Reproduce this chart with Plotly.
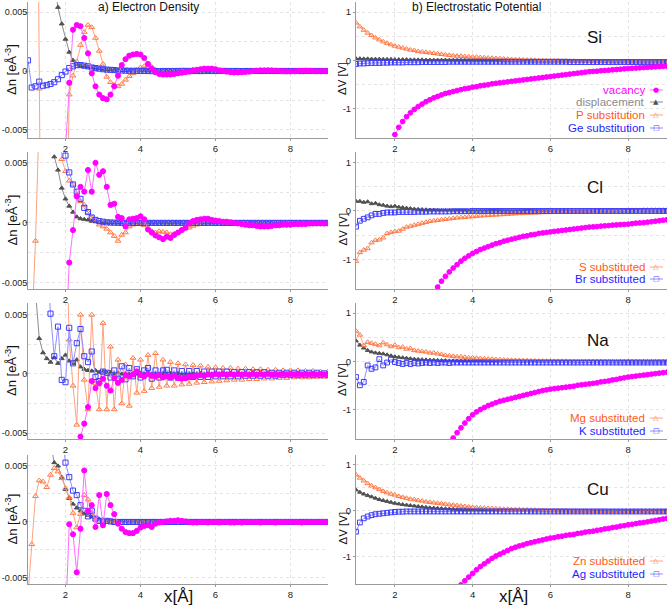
import plotly.graph_objects as go
from plotly.subplots import make_subplots

# x grid in Angstrom (shared by every series)
X = [1.0, 1.1, 1.2, 1.3, 1.4, 1.5, 1.6, 1.7, 1.8, 1.9,
     2.0, 2.1, 2.2, 2.3, 2.4, 2.5, 2.6, 2.7, 2.8, 2.9,
     3.0, 3.1, 3.2, 3.3, 3.4, 3.5, 3.6, 3.7, 3.8, 3.9,
     4.0, 4.1, 4.2, 4.3, 4.4, 4.5, 4.6, 4.7, 4.8, 4.9,
     5.0, 5.1, 5.2, 5.3, 5.4, 5.5, 5.6, 5.7, 5.8, 5.9,
     6.0, 6.1, 6.2, 6.3, 6.4, 6.5, 6.6, 6.7, 6.8, 6.9,
     7.0, 7.1, 7.2, 7.3, 7.4, 7.5, 7.6, 7.7, 7.8, 7.9,
     8.0, 8.1, 8.2, 8.3, 8.4, 8.5, 8.6, 8.7, 8.8, 8.9, 9.0]

# ---------------- electron density, units of 1e-3 e/A^3 ----------------
SI_DN_VAC = [None] * 10 + [
    -6.5, -1.0, 3.5, 3.9, 3.8, 2.8, 1.5, -0.2, -1.3, -2.0,
    -2.3, -2.4, -2.0, -1.3, -0.4, 0.5, 1.0, 1.3, 1.4, 1.45,
    1.4, 1.1, 0.6, 0.2, -0.1, -0.25, -0.3, -0.3, -0.3, -0.25,
    -0.2, -0.15, -0.1, -0.05, 0.05, 0.1, 0.15, 0.2, 0.2, 0.2,
    0.15, 0.05, 0.0, -0.05, -0.1, -0.12, -0.12, -0.1, -0.08, -0.05,
    0.0, 0.02, 0.05, 0.05, 0.05, 0.05, 0.03, 0.0, -0.02, -0.03,
    -0.03, -0.02, 0.0, 0.02, 0.03, 0.02, 0.0, -0.02, -0.02, 0.0, 0.0]
SI_DN_DISP = [None] * 7 + [
    7.5, 5.4, 4.0,
    2.7, 1.6, 0.9, 0.55, 0.45, 0.4, 0.35, 0.3, 0.25, 0.2,
    0.15, 0.12, 0.1, 0.08, 0.06, 0.05, 0.04, 0.03, 0.03, 0.02,
    0.02, 0.02, 0.01, 0.01, 0.01, 0.0, 0.0, 0.0, 0.01, 0.0,
    0.0, -0.01, 0.0, 0.0, 0.01, 0.01, 0.0, 0.0, -0.01, 0.0,
    0.0, 0.0, 0.01, 0.0, 0.0, -0.01, -0.01, 0.0, 0.0, 0.0,
    0.0, 0.01, 0.0, 0.0, 0.0, -0.01, 0.0, 0.0, 0.0, 0.0,
    0.0, 0.0, 0.0, 0.0, 0.0, 0.0, 0.0, 0.0, 0.0, 0.0, 0.0]
SI_DN_SUB1 = [
    None, None, 40.0, -1.5, -40.0, None, None, None, None, None,
    -20.0, -2.0, -0.4, 0.8, 2.2, 3.3, 3.9, 3.7, 2.8, 1.7,
    0.6, -0.5, -0.95, -1.2, -1.3, -1.1, -0.75, -0.45, -0.2, 0.1,
    0.3, 0.4, 0.45, 0.35, 0.1, -0.05, -0.1, -0.15, -0.15, -0.1,
    -0.1, -0.05, 0.0, 0.05, 0.1, 0.1, 0.15, 0.15, 0.15, 0.1,
    0.05, 0.0, -0.03, -0.05, -0.05, -0.05, -0.04, -0.03, 0.0, 0.02,
    0.03, 0.03, 0.02, 0.0, -0.02, -0.03, -0.03, -0.02, 0.0, 0.01,
    0.02, 0.02, 0.01, 0.0, -0.01, -0.02, -0.02, -0.01, 0.0, 0.01, 0.01]
SI_DN_SUB2 = [
    0.9, -1.4, -1.3, -0.9, -1.25, -1.2, -1.1, -0.95, -0.7, -0.35,
    -0.05, 0.25, 0.4, 0.5, 0.5, 0.45, 0.4, 0.3, 0.25, 0.2,
    0.15, 0.12, 0.1, 0.08, 0.05, 0.04, 0.03, 0.02, 0.02, 0.01,
    0.01, 0.0, 0.0, -0.01, -0.01, -0.01, 0.0, 0.0, 0.0, 0.0,
    0.0, 0.01, 0.01, 0.0, 0.0, 0.0, -0.01, 0.0, 0.0, 0.0,
    0.0, 0.0, 0.01, 0.0, 0.0, 0.0, 0.0, -0.01, 0.0, 0.0,
    0.0, 0.0, 0.0, 0.0, 0.01, 0.0, 0.0, 0.0, 0.0, 0.0,
    0.0, 0.0, 0.0, -0.01, 0.0, 0.0, 0.0, 0.0, 0.0, 0.0, 0.0]

CL_DN_VAC = [None] * 10 + [
    -10.0, -3.3, -0.6, 2.2, 3.0, 2.6, 4.4, 2.6, 5.0, 4.0,
    4.3, 3.0, 1.5, 1.6, 0.5, 0.4, -0.3, 0.3, 0.35, 0.4,
    0.55, 0.3, -0.55, -0.8, -1.05, -1.2, -1.35, -1.15, -1.25, -1.0,
    -0.8, -0.6, -0.4, -0.05, 0.15, 0.25, 0.3, 0.35, 0.35, 0.25,
    0.2, 0.15, 0.1, 0.1, 0.05, 0.0, -0.05, -0.1, -0.15, -0.2,
    -0.2, -0.25, -0.3, -0.3, -0.3, -0.25, -0.2, -0.2, -0.15, -0.15,
    -0.15, -0.1, -0.1, -0.1, -0.1, -0.05, -0.05, -0.05, -0.05, -0.05, -0.05]
CL_DN_DISP = [None] * 7 + [
    5.5, 4.4, 2.9,
    2.0, 1.4, 0.9, 0.5, 0.35, 0.3, 0.25, 0.15, 0.1, 0.05,
    0.03, 0.02, 0.01, 0.01, 0.0, 0.0, 0.0, 0.0, 0.0, 0.0,
    0.0, 0.0, 0.0, 0.0, 0.0, 0.0, 0.0, 0.0, 0.0, 0.0,
    0.0, 0.0, 0.0, 0.0, 0.0, 0.0, 0.0, 0.0, 0.0, 0.0,
    0.0, 0.0, 0.0, 0.0, 0.0, 0.0, 0.0, 0.0, 0.0, 0.0,
    0.0, 0.0, 0.0, 0.0, 0.0, 0.0, 0.0, 0.0, 0.0, 0.0,
    0.0, 0.0, 0.0, 0.0, 0.0, 0.0, 0.0, 0.0, 0.0, 0.0, 0.0]
CL_DN_SUB1 = [
    None, -9.0, -1.5, 9.0, None, None, None, None, 12.0, 5.3,
    4.3, 3.5, 3.2, 2.4, 1.8, 1.5, 0.9, 0.45, 0.15, -0.15,
    -0.3, -0.5, -0.8, -1.1, -1.5, -1.0, -0.8, -0.3, -0.15, -0.1,
    -0.1, -0.2, -0.4, -0.7, -0.8, -0.7, -0.75, -0.8, -0.95, -0.9,
    -0.8, -0.55, -0.45, -0.4, -0.25, -0.15, 0.1, 0.15, 0.2, 0.2,
    0.15, 0.1, 0.05, 0.0, -0.05, -0.05, -0.1, -0.1, -0.1, -0.15,
    -0.15, -0.15, -0.2, -0.2, -0.15, -0.15, -0.1, -0.1, -0.1, -0.05,
    -0.05, -0.05, -0.05, 0.0, 0.0, -0.05, -0.05, 0.0, 0.0, 0.0, 0.0]
CL_DN_SUB2 = [None] * 9 + [
    12.0,
    5.6, 4.2, 3.2, 2.6, 2.0, 1.25, 0.9, 0.45, 0.25, 0.15,
    0.1, 0.05, 0.03, 0.02, 0.01, 0.0, 0.0, 0.0, 0.0, 0.0,
    0.0, 0.0, 0.0, 0.0, 0.0, 0.0, 0.0, 0.0, 0.0, 0.0,
    0.0, 0.0, 0.0, 0.0, 0.0, 0.0, 0.0, 0.0, 0.0, 0.0,
    0.0, 0.0, 0.0, 0.0, 0.0, 0.0, 0.0, 0.0, 0.0, 0.0,
    0.0, 0.0, 0.0, 0.0, 0.0, 0.0, 0.0, 0.0, 0.0, 0.0,
    0.0, 0.0, 0.0, 0.0, 0.0, 0.0, 0.0, 0.0, 0.0, 0.0, 0.0]

NA_DN_VAC = [None] * 13 + [
    -12.0, -5.3, -4.2, -2.8, -0.6, -1.2, -0.8,
    -0.4, -1.0, -1.4, -0.35, -0.75, -0.5, -0.1, -0.2, -0.05, 0.22,
    -0.1, -0.2, 0.0, -0.15, -0.2, -0.1, -0.3, -0.2, -0.3, -0.15,
    -0.35, -0.4, -0.35, -0.25, -0.2, -0.15, -0.1, -0.15, -0.05, -0.1,
    0.0, -0.05, 0.0, -0.05, 0.0, -0.05, 0.0, -0.05, 0.0, -0.05,
    0.0, -0.05, 0.0, -0.05, 0.0, -0.05, -0.05, -0.05, 0.0, -0.05,
    0.0, -0.05, 0.0, -0.05, 0.0, -0.05, 0.0, -0.05, 0.0, -0.05, 0.0]
NA_DN_DISP = [
    None, None, 7.0, 3.0, 1.8, 1.3, 1.0, 1.4, 0.9, 1.3,
    1.6, 1.1, 0.9, 1.2, 0.6, 0.4, 0.3, 0.25, 0.3, 0.15,
    0.2, 0.1, 0.15, 0.05, 0.1, 0.0, 0.05, 0.0, 0.05, 0.0,
    0.05, 0.0, 0.05, 0.0, 0.05, 0.0, 0.05, 0.0, 0.05, 0.0,
    0.05, 0.0, 0.0, 0.05, 0.0, 0.0, 0.05, 0.0, 0.0, 0.0,
    0.05, 0.0, 0.0, 0.0, 0.05, 0.0, 0.0, 0.0, 0.0, 0.0,
    0.0, 0.0, 0.0, 0.0, 0.0, 0.0, 0.0, 0.0, 0.0, 0.0,
    0.0, 0.0, 0.0, 0.0, 0.0, 0.0, 0.0, 0.0, 0.0, 0.0, 0.0]
NA_DN_SUB1 = [None] * 10 + [
    14.0, 2.9, -1.0, -4.3, 5.0, -0.5, -3.0, 5.0, -0.8, -3.0,
    4.3, -3.0, 2.3, -3.0, 1.2, -2.5, 0.8, -2.7, 1.35, -1.6,
    1.2, -1.45, 1.6, -1.2, 1.75, -1.1, 1.2, -1.0, 1.0, -1.0,
    0.9, -0.9, 0.8, -0.85, 0.75, -0.75, 0.7, -0.7, 0.6, -0.65,
    0.55, -0.6, 0.5, -0.55, 0.5, -0.5, 0.45, -0.5, 0.45, -0.45,
    0.4, -0.45, 0.4, -0.4, 0.35, -0.4, 0.35, -0.35, 0.3, -0.35,
    0.3, -0.3, 0.3, -0.3, 0.25, -0.3, 0.25, -0.25, 0.2, -0.25, 0.2]
NA_DN_SUB2 = [
    None, None, None, None, None, 10.0, 5.1, 1.5, 4.0, -0.5,
    -0.7, 3.9, 0.9, 2.6, 3.8, 1.5, 1.0, 1.9, -0.25, -0.6,
    0.2, 0.1, -0.3, 0.3, -0.4, 0.65, -0.45, 0.5, -0.2, 0.4,
    -0.3, 0.3, 0.5, -0.4, 0.3, -0.3, 0.3, 0.35, -0.3, 0.3,
    -0.3, 0.25, -0.3, 0.25, -0.25, 0.25, -0.25, 0.2, -0.25, 0.2,
    -0.2, 0.2, -0.2, 0.2, -0.2, 0.15, -0.2, 0.15, -0.15, 0.15,
    -0.15, 0.15, -0.15, 0.15, -0.15, 0.1, -0.15, 0.1, -0.1, 0.1,
    -0.1, 0.1, -0.1, 0.1, -0.1, 0.1, -0.1, 0.1, -0.1, 0.05, -0.1]

CU_DN_VAC = [None] * 10 + [
    -9.0, -0.2, -1.1, -4.5, -0.6, 4.6, 1.0, 1.5, -0.45, 2.4,
    -0.3, 2.5, 1.5, 0.7, -0.15, -0.6, -0.9, -1.0, -1.0, -0.8,
    -0.5, -0.35, -0.3, -0.45, -0.15, -0.05, 0.0, 0.05, 0.1, 0.1,
    0.15, 0.1, 0.05, 0.0, -0.05, -0.05, 0.0, 0.0, -0.05, 0.0,
    0.0, -0.05, 0.0, 0.0, -0.05, -0.05, 0.0, -0.05, 0.0, 0.0,
    0.0, 0.0, -0.05, 0.0, 0.0, 0.0, -0.05, 0.0, 0.0, 0.0,
    0.0, 0.0, 0.0, -0.05, 0.0, 0.0, 0.0, 0.0, 0.0, 0.0, 0.0]
CU_DN_DISP = [None] * 6 + [
    7.0, 5.3, 5.0, 4.0,
    2.9, 2.1, 1.6, 1.25, 1.0, 0.75, 0.6, 0.45, 0.35, 0.25,
    0.2, 0.15, 0.1, 0.08, 0.05, 0.05, 0.05, 0.05, 0.05, 0.05,
    0.05, 0.05, 0.05, 0.05, 0.05, 0.05, 0.05, 0.05, 0.05, 0.05,
    0.05, 0.05, 0.05, 0.05, 0.05, 0.05, 0.05, 0.05, 0.05, 0.05,
    0.05, 0.05, 0.05, 0.05, 0.05, 0.05, 0.05, 0.05, 0.05, 0.05,
    0.05, 0.05, 0.05, 0.05, 0.05, 0.05, 0.05, 0.05, 0.05, 0.05,
    0.05, 0.05, 0.05, 0.05, 0.05, 0.05, 0.05, 0.05, 0.05, 0.05, 0.05]
CU_DN_SUB1 = [
    -6.5, -2.0, 2.3, 3.7, 3.6, 3.1, 4.2, 4.8, 4.5, 3.9,
    3.0, 2.2, 0.8, -0.5, 0.7, 2.4, 2.0, 0.8, 0.2, 0.1,
    0.0, 0.1, 0.0, -0.05, -0.1, -0.1, -0.1, -0.05, -0.05, 0.0,
    0.0, 0.0, 0.0, 0.0, 0.0, 0.0, 0.0, 0.0, 0.0, 0.0,
    0.0, 0.0, 0.0, 0.0, 0.0, 0.0, 0.0, 0.0, 0.0, 0.0,
    0.0, 0.0, 0.0, 0.0, 0.0, 0.0, 0.0, 0.0, 0.0, 0.0,
    0.0, 0.0, 0.0, 0.0, 0.0, 0.0, 0.0, 0.0, 0.0, 0.0,
    0.0, 0.0, 0.0, 0.0, 0.0, 0.0, 0.0, 0.0, 0.0, 0.0, 0.0]
CU_DN_SUB2 = [None] * 9 + [
    8.0,
    5.3, 4.0, 2.8, 2.4, 1.5, 1.0, 0.5, 1.0, 0.3, 0.1,
    0.0, 0.1, 0.05, 0.0, 0.0, 0.0, 0.0, 0.0, 0.0, 0.0,
    0.0, 0.0, 0.0, 0.0, 0.0, 0.0, 0.0, 0.0, 0.0, 0.0,
    0.0, 0.0, 0.0, 0.0, 0.0, 0.0, 0.0, 0.0, 0.0, 0.0,
    0.0, 0.0, 0.0, 0.0, 0.0, 0.0, 0.0, 0.0, 0.0, 0.0,
    0.0, 0.0, 0.0, 0.0, 0.0, 0.0, 0.0, 0.0, 0.0, 0.0,
    0.0, 0.0, 0.0, 0.0, 0.0, 0.0, 0.0, 0.0, 0.0, 0.0, 0.0]

# ---------------- electrostatic potential, V ----------------
SI_DV_VAC = [None] * 10 + [
    -1.53, -1.38, -1.26, -1.16, -1.08, -1.01, -0.95, -0.90, -0.85, -0.81,
    -0.77, -0.74, -0.71, -0.68, -0.66, -0.64, -0.62, -0.60, -0.58, -0.57,
    -0.55, -0.54, -0.52, -0.51, -0.50, -0.48, -0.47, -0.46, -0.45, -0.44,
    -0.43, -0.42, -0.41, -0.40, -0.39, -0.38, -0.37, -0.36, -0.35, -0.34,
    -0.33, -0.32, -0.31, -0.30, -0.29, -0.28, -0.27, -0.26, -0.25, -0.24,
    -0.23, -0.225, -0.22, -0.21, -0.205, -0.20, -0.19, -0.185, -0.18, -0.17,
    -0.165, -0.16, -0.155, -0.15, -0.145, -0.14, -0.135, -0.13, -0.125, -0.12, -0.115]
SI_DV_DISP = [
    0.04, 0.04, 0.035, 0.035, 0.03, 0.03, 0.03, 0.025, 0.025, 0.025,
    0.02, 0.02, 0.02, 0.02, 0.015, 0.015, 0.015, 0.015, 0.01, 0.01,
    0.01, 0.01, 0.01, 0.01, 0.005, 0.005, 0.005, 0.005, 0.005, 0.005,
    0.0, 0.0, 0.0, 0.0, 0.0, 0.0, 0.0, 0.0, -0.005, -0.005,
    -0.005, -0.005, -0.005, -0.005, -0.01, -0.01, -0.01, -0.01, -0.01, -0.01,
    -0.01, -0.01, -0.01, -0.015, -0.015, -0.015, -0.015, -0.015, -0.015, -0.015,
    -0.015, -0.015, -0.015, -0.02, -0.02, -0.02, -0.02, -0.02, -0.02, -0.02,
    -0.02, -0.02, -0.02, -0.02, -0.02, -0.02, -0.02, -0.02, -0.02, -0.02, -0.02]
SI_DV_SUB1 = [
    0.78, 0.70, 0.63, 0.57, 0.52, 0.47, 0.43, 0.39, 0.36, 0.33,
    0.30, 0.28, 0.26, 0.24, 0.22, 0.21, 0.19, 0.18, 0.17, 0.16,
    0.15, 0.14, 0.13, 0.12, 0.11, 0.10, 0.095, 0.09, 0.085, 0.08,
    0.075, 0.07, 0.065, 0.06, 0.055, 0.05, 0.045, 0.04, 0.035, 0.03,
    0.025, 0.02, 0.02, 0.015, 0.01, 0.01, 0.005, 0.0, 0.0, 0.0,
    -0.005, -0.005, -0.005, -0.01, -0.01, -0.01, -0.01, -0.015, -0.015, -0.015,
    -0.015, -0.02, -0.02, -0.02, -0.02, -0.02, -0.025, -0.025, -0.025, -0.025,
    -0.025, -0.03, -0.03, -0.03, -0.03, -0.03, -0.03, -0.03, -0.03, -0.03, -0.03]
SI_DV_SUB2 = [
    -0.07, -0.06, -0.06, -0.055, -0.05, -0.05, -0.05, -0.045, -0.045, -0.04,
    -0.04, -0.04, -0.04, -0.035, -0.035, -0.035, -0.035, -0.03, -0.03, -0.03,
    -0.03, -0.03, -0.03, -0.03, -0.025, -0.025, -0.025, -0.025, -0.025, -0.025,
    -0.025, -0.025, -0.025, -0.025, -0.025, -0.025, -0.025, -0.025, -0.025, -0.025,
    -0.025, -0.025, -0.025, -0.025, -0.025, -0.025, -0.025, -0.025, -0.025, -0.025,
    -0.025, -0.025, -0.025, -0.025, -0.025, -0.03, -0.03, -0.03, -0.03, -0.03,
    -0.03, -0.03, -0.03, -0.03, -0.03, -0.03, -0.03, -0.03, -0.03, -0.03,
    -0.03, -0.03, -0.03, -0.03, -0.03, -0.03, -0.03, -0.03, -0.03, -0.03, -0.03]

CL_DV_VAC = [None] * 21 + [
    -1.56, -1.44, -1.34, -1.25, -1.17, -1.10, -1.03, -0.97, -0.92,
    -0.87, -0.83, -0.79, -0.76, -0.73, -0.70, -0.67, -0.65, -0.62, -0.60,
    -0.58, -0.56, -0.54, -0.52, -0.51, -0.49, -0.48, -0.46, -0.45, -0.44,
    -0.43, -0.42, -0.41, -0.40, -0.39, -0.38, -0.37, -0.36, -0.35, -0.34,
    -0.33, -0.325, -0.32, -0.31, -0.305, -0.30, -0.29, -0.285, -0.28, -0.275,
    -0.27, -0.26, -0.25, -0.245, -0.24, -0.23, -0.22, -0.21, -0.20, -0.19, -0.18]
CL_DV_DISP = [
    0.20, 0.20, 0.18, 0.19, 0.15, 0.16, 0.13, 0.12, 0.10, 0.09,
    0.10, 0.08, 0.07, 0.06, 0.05, 0.04, 0.035, 0.03, 0.025, 0.02,
    0.02, 0.015, 0.01, 0.01, 0.01, 0.005, 0.005, 0.005, 0.005, 0.0,
    0.0, 0.0, 0.0, 0.0, 0.0, 0.0, 0.0, 0.0, 0.0, 0.0,
    0.0, 0.0, 0.0, 0.0, 0.0, 0.0, 0.0, 0.0, 0.0, 0.0,
    0.0, 0.0, 0.0, 0.0, 0.0, 0.0, 0.0, 0.0, 0.0, 0.0,
    0.0, 0.0, 0.0, 0.0, 0.0, 0.0, 0.0, 0.0, 0.0, 0.0,
    0.0, 0.0, 0.0, 0.0, 0.0, 0.0, 0.0, 0.0, 0.0, 0.0, 0.0]
CL_DV_SUB1 = [
    -1.03, -0.85, -0.80, -0.77, -0.65, -0.60, -0.59, -0.55, -0.46, -0.44,
    -0.42, -0.41, -0.37, -0.33, -0.31, -0.29, -0.27, -0.25, -0.23, -0.21,
    -0.20, -0.19, -0.18, -0.17, -0.16, -0.15, -0.14, -0.135, -0.13, -0.12,
    -0.115, -0.11, -0.10, -0.095, -0.09, -0.085, -0.08, -0.075, -0.07, -0.065,
    -0.06, -0.055, -0.05, -0.05, -0.045, -0.04, -0.04, -0.035, -0.03, -0.03,
    -0.025, -0.02, -0.02, -0.015, -0.015, -0.01, -0.01, -0.005, -0.005, 0.0,
    0.0, 0.0, 0.005, 0.005, 0.005, 0.01, 0.01, 0.01, 0.01, 0.01,
    0.015, 0.015, 0.015, 0.015, 0.02, 0.02, 0.02, 0.02, 0.02, 0.02, 0.02]
CL_DV_SUB2 = [
    -0.32, -0.20, -0.16, -0.13, -0.09, -0.06, -0.06, -0.04, -0.03, -0.03,
    -0.03, -0.02, -0.02, -0.02, -0.02, -0.02, -0.015, -0.015, -0.015, -0.01,
    -0.01, -0.01, -0.01, -0.01, -0.01, -0.005, -0.005, -0.005, -0.005, -0.005,
    0.0, 0.0, 0.0, 0.0, 0.0, 0.0, 0.0, 0.0, 0.0, 0.0,
    0.0, 0.0, 0.0, 0.0, 0.0, 0.0, 0.0, 0.0, 0.0, 0.0,
    0.0, 0.0, 0.0, 0.0, 0.0, 0.0, 0.0, 0.0, 0.0, 0.0,
    0.0, 0.0, 0.0, 0.0, 0.0, 0.0, 0.0, 0.0, 0.0, 0.0,
    0.0, 0.0, 0.0, 0.0, 0.0, 0.0, 0.0, 0.0, 0.0, 0.0, 0.0]

NA_DV_VAC = [None] * 25 + [
    -1.58, -1.47, -1.37, -1.27, -1.18,
    -1.10, -1.04, -0.99, -0.95, -0.91, -0.88, -0.85, -0.82, -0.80, -0.78,
    -0.76, -0.74, -0.72, -0.70, -0.68, -0.66, -0.64, -0.62, -0.60, -0.585,
    -0.57, -0.56, -0.55, -0.54, -0.53, -0.52, -0.51, -0.49, -0.48, -0.47,
    -0.46, -0.45, -0.44, -0.42, -0.41, -0.40, -0.38, -0.37, -0.35, -0.335,
    -0.32, -0.31, -0.30, -0.29, -0.28, -0.27, -0.26, -0.25, -0.24, -0.23, -0.22]
NA_DV_DISP = [
    0.43, 0.34, 0.28, 0.23, 0.20, 0.18, 0.17, 0.16, 0.14, 0.12,
    0.10, 0.09, 0.08, 0.07, 0.06, 0.05, 0.045, 0.04, 0.035, 0.03,
    0.03, 0.025, 0.02, 0.02, 0.015, 0.015, 0.01, 0.01, 0.01, 0.005,
    0.005, 0.005, 0.0, 0.0, 0.0, 0.0, 0.0, 0.0, 0.0, 0.0,
    0.0, 0.0, 0.0, 0.0, 0.0, 0.0, 0.0, 0.0, 0.0, 0.0,
    0.0, 0.0, 0.0, 0.0, 0.0, 0.0, 0.0, 0.0, 0.0, 0.0,
    0.0, 0.0, 0.0, 0.0, 0.0, 0.0, 0.0, 0.0, 0.0, 0.0,
    0.0, 0.0, 0.0, 0.0, 0.0, 0.0, 0.0, 0.0, 0.0, 0.0, 0.0]
NA_DV_SUB1 = [
    0.63, 0.55, 0.33, 0.40, 0.38, 0.36, 0.33, 0.39, 0.35, 0.31,
    0.34, 0.29, 0.30, 0.26, 0.27, 0.23, 0.22, 0.21, 0.20, 0.18,
    0.18, 0.16, 0.15, 0.13, 0.12, 0.11, 0.10, 0.10, 0.09, 0.08,
    0.08, 0.07, 0.065, 0.06, 0.055, 0.05, 0.045, 0.04, 0.035, 0.03,
    0.03, 0.025, 0.025, 0.02, 0.02, 0.015, 0.015, 0.01, 0.01, 0.01,
    0.01, 0.005, 0.005, 0.005, 0.005, 0.0, 0.0, 0.0, 0.0, 0.0,
    0.0, 0.0, 0.0, 0.0, -0.005, -0.005, -0.005, -0.005, -0.005, -0.005,
    -0.005, -0.01, -0.01, -0.01, -0.01, -0.01, -0.01, -0.01, -0.01, -0.01, -0.01]
NA_DV_SUB2 = [
    -0.32, -0.49, -0.42, -0.08, -0.15, -0.12, 0.05, -0.08, -0.02, 0.04,
    -0.01, -0.03, -0.05, -0.03, -0.05, -0.03, -0.04, -0.03, -0.02, -0.03,
    -0.02, -0.03, -0.02, -0.02, -0.03, -0.02, -0.02, -0.02, -0.02, -0.02,
    -0.02, -0.02, -0.02, -0.02, -0.02, -0.02, -0.02, -0.02, -0.02, -0.02,
    -0.02, -0.02, -0.02, -0.02, -0.02, -0.02, -0.02, -0.02, -0.02, -0.02,
    -0.02, -0.02, -0.02, -0.02, -0.02, -0.02, -0.02, -0.02, -0.02, -0.02,
    -0.02, -0.02, -0.02, -0.02, -0.02, -0.02, -0.02, -0.02, -0.02, -0.02,
    -0.02, -0.02, -0.02, -0.02, -0.02, -0.02, -0.02, -0.02, -0.02, -0.02, -0.02]

CU_DV_VAC = [None] * 27 + [
    -1.62, -1.53, -1.45,
    -1.37, -1.29, -1.22, -1.16, -1.10, -1.04, -0.99, -0.95, -0.91, -0.87,
    -0.83, -0.80, -0.77, -0.75, -0.72, -0.70, -0.68, -0.66, -0.64, -0.62,
    -0.60, -0.59, -0.57, -0.56, -0.54, -0.53, -0.52, -0.50, -0.49, -0.47,
    -0.46, -0.45, -0.43, -0.42, -0.40, -0.39, -0.37, -0.36, -0.34, -0.33,
    -0.31, -0.30, -0.285, -0.27, -0.26, -0.245, -0.23, -0.215, -0.20, -0.185, -0.17]
CU_DV_DISP = [
    0.45, 0.40, 0.36, 0.33, 0.30, 0.27, 0.24, 0.22, 0.20, 0.18,
    0.16, 0.145, 0.13, 0.12, 0.11, 0.10, 0.09, 0.08, 0.07, 0.06,
    0.055, 0.05, 0.045, 0.04, 0.035, 0.03, 0.025, 0.025, 0.02, 0.02,
    0.015, 0.015, 0.01, 0.01, 0.01, 0.005, 0.005, 0.005, 0.0, 0.0,
    0.0, 0.0, 0.0, 0.0, 0.0, -0.005, -0.005, -0.005, -0.005, -0.005,
    -0.005, -0.005, -0.005, -0.005, -0.005, -0.01, -0.01, -0.01, -0.01, -0.01,
    -0.01, -0.01, -0.01, -0.01, -0.01, -0.01, -0.01, -0.01, -0.01, -0.01,
    -0.01, -0.01, -0.01, -0.01, -0.01, -0.01, -0.01, -0.01, -0.01, -0.01, -0.01]
CU_DV_SUB1 = [
    0.78, 0.71, 0.65, 0.59, 0.54, 0.50, 0.46, 0.42, 0.39, 0.36,
    0.34, 0.31, 0.29, 0.27, 0.25, 0.24, 0.22, 0.21, 0.19, 0.18,
    0.17, 0.16, 0.15, 0.14, 0.13, 0.12, 0.11, 0.10, 0.09, 0.08,
    0.07, 0.065, 0.06, 0.055, 0.05, 0.045, 0.04, 0.035, 0.03, 0.03,
    0.025, 0.02, 0.02, 0.015, 0.015, 0.01, 0.01, 0.005, 0.005, 0.0,
    0.0, 0.0, -0.005, -0.005, -0.005, -0.01, -0.01, -0.01, -0.01, -0.01,
    -0.015, -0.015, -0.015, -0.015, -0.015, -0.02, -0.02, -0.02, -0.02, -0.02,
    -0.02, -0.02, -0.02, -0.025, -0.025, -0.025, -0.025, -0.025, -0.025, -0.025, -0.025]
CU_DV_SUB2 = [
    -0.46, -0.26, -0.17, -0.13, -0.10, -0.08, -0.07, -0.06, -0.05, -0.04,
    -0.03, -0.025, -0.025, -0.02, -0.02, -0.02, -0.02, -0.02, -0.02, -0.02,
    -0.02, -0.02, -0.02, -0.02, -0.02, -0.02, -0.02, -0.02, -0.02, -0.02,
    -0.02, -0.02, -0.02, -0.02, -0.02, -0.02, -0.02, -0.02, -0.02, -0.02,
    -0.02, -0.02, -0.02, -0.02, -0.02, -0.02, -0.02, -0.02, -0.02, -0.02,
    -0.02, -0.02, -0.02, -0.02, -0.02, -0.02, -0.02, -0.02, -0.02, -0.02,
    -0.02, -0.02, -0.02, -0.02, -0.02, -0.02, -0.02, -0.02, -0.02, -0.02,
    -0.02, -0.02, -0.02, -0.02, -0.02, -0.02, -0.02, -0.02, -0.02, -0.02, -0.02]

ELEMENTS = ['Si', 'Cl', 'Na', 'Cu']
SUB_LABELS = [('P substitution', 'Ge substitution'),
              ('S substituted', 'Br substituted'),
              ('Mg substituted', 'K substituted'),
              ('Zn substituted', 'Ag substituted')]
DN_SERIES = [
    (SI_DN_VAC, SI_DN_DISP, SI_DN_SUB1, SI_DN_SUB2),
    (CL_DN_VAC, CL_DN_DISP, CL_DN_SUB1, CL_DN_SUB2),
    (NA_DN_VAC, NA_DN_DISP, NA_DN_SUB1, NA_DN_SUB2),
    (CU_DN_VAC, CU_DN_DISP, CU_DN_SUB1, CU_DN_SUB2),
]
DV_SERIES = [
    (SI_DV_VAC, SI_DV_DISP, SI_DV_SUB1, SI_DV_SUB2),
    (CL_DV_VAC, CL_DV_DISP, CL_DV_SUB1, CL_DV_SUB2),
    (NA_DV_VAC, NA_DV_DISP, NA_DV_SUB1, NA_DV_SUB2),
    (CU_DV_VAC, CU_DV_DISP, CU_DV_SUB1, CU_DV_SUB2),
]

W, H = 669, 605
FONT = 'Liberation Sans, Arial, sans-serif'

# marker / line styles: vacancy, displacement, substitution 1, substitution 2
STYLES = [
    dict(symbol='circle', mcolor='#ff00ff', lcolor='#ff6cff', text='#ff00ff', glyph='\u25cf'),
    dict(symbol='triangle-up', mcolor='#505050', lcolor='#8c8c8c', text='#8a8a8a', glyph='\u25b2'),
    dict(symbol='triangle-up-open', mcolor='#ff7a45', lcolor='#ffa37f', text='#ff5a14', glyph='\u25b3'),
    dict(symbol='square-open', mcolor='#3c3cff', lcolor='#9090ff', text='#1e1eff', glyph='\u25a1'),
]
DRAW_ORDER = [1, 2, 3, 0]

ROWS_PX = [(2, 138), (152, 289), (303, 439), (455, 584)]
LEFT_PX = (28, 328)
RIGHT_PX = (356, 667)
DN_RANGES = [[-5.68, 5.85], [-5.5, 5.9], [-5.5, 6.0], [-5.54, 5.98]]
DV_RANGE = [-1.6, 1.21]


def px(xp):
    return xp / W


def py(yp):
    return 1 - yp / H


fig = make_subplots(rows=4, cols=2)

for r in range(4):
    for col, series, vsize in ((1, DN_SERIES[r], 0.85), (2, DV_SERIES[r], 0.8)):
        for k in DRAW_ORDER:
            ys = series[k]
            assert len(ys) == len(X), (r, col, k, len(ys))
            st = STYLES[k]
            base = 6 if k in (0, 2, 3) else 5
            fig.add_trace(go.Scatter(
                x=X, y=ys, mode='lines+markers',
                line=dict(color=st['lcolor'], width=1),
                marker=dict(symbol=st['symbol'], size=base * vsize, color=st['mcolor'],
                            line=dict(color=st['mcolor'], width=1)),
                cliponaxis=True, showlegend=False,
            ), row=r + 1, col=col)

layout_axes = {}
for r in range(4):
    top, bot = ROWS_PX[r]
    ydom = [py(bot), py(top)]
    for col in (1, 2):
        idx = r * 2 + col
        sfx = '' if idx == 1 else str(idx)
        xr = LEFT_PX if col == 1 else RIGHT_PX
        common = dict(showline=True, linecolor='#9a9a9a', linewidth=1, ticks='outside',
                      ticklen=2, tickcolor='#9a9a9a', showgrid=True, gridcolor='#e4e4e4',
                      griddash='dot', gridwidth=1, zeroline=False, automargin=False,
                      tickfont=dict(size=9.5, color='#222', family=FONT))
        layout_axes['xaxis' + sfx] = dict(common, domain=[px(xr[0]), px(xr[1])], range=[1, 9],
                                          tickvals=[2, 4, 6, 8], ticktext=['2', '4', '6', '8'])
        if col == 1:
            layout_axes['yaxis' + sfx] = dict(
                common, domain=ydom, range=DN_RANGES[r], ticklabelstandoff=-4,
                tickfont=dict(size=9, color='#222', family=FONT),
                tickvals=[-5, 0, 5], ticktext=['-0.005', '0', '0.005'],
                minor=dict(tickvals=[-2.5, 2.5], showgrid=True, gridcolor='#e4e4e4',
                           griddash='dot', ticks=''))
        else:
            layout_axes['yaxis' + sfx] = dict(
                common, domain=ydom, range=DV_RANGE,
                tickvals=[-1, 0, 1], ticktext=['-1', '0', '1'],
                minor=dict(tickvals=[-0.5, 0.5], showgrid=True, gridcolor='#e4e4e4',
                           griddash='dot', ticks=''))
fig.update_layout(**layout_axes)

ann = []
shapes = []


def note(xp, yp, text, size, color='#111', anchor='center', angle=0, family=FONT):
    ann.append(dict(x=px(xp), y=py(yp), xref='paper', yref='paper', text=text,
                    showarrow=False, textangle=angle, xanchor=anchor, yanchor='middle',
                    font=dict(size=size, color=color, family=family)))


note(148, 7, 'a) Electron Density', 12)
note(477, 7, 'b) Electrostatic Potential', 12)
note(178, 596, 'x[\u00c5]', 17)
note(513, 596, 'x[\u00c5]', 17)

ELEM_POS = [(594, 37), (595, 188), (598, 340), (598, 489)]
LEGEND_Y = [[90, 102, 115, 128], [267, 279], [418, 431], [561, 574]]

for r in range(4):
    top, bot = ROWS_PX[r]
    mid = (top + bot) / 2
    note(11, mid, '\u0394n [e\u00c5<sup>-3</sup>]', 13, angle=-90)
    note(342, mid + 9, '\u0394V [V]', 11.5, angle=-90)
    ex, ey = ELEM_POS[r]
    note(ex, ey, ELEMENTS[r], 17)
    if r == 0:
        entries = [(0, 'vacancy'), (1, 'displacement'), (2, SUB_LABELS[r][0]), (3, SUB_LABELS[r][1])]
    else:
        entries = [(2, SUB_LABELS[r][0]), (3, SUB_LABELS[r][1])]
    for (k, label), ly in zip(entries, LEGEND_Y[r]):
        st = STYLES[k]
        note(647, ly, label, 11.5, color=st['text'], anchor='right')
        shapes.append(dict(type='line', xref='paper', yref='paper', x0=px(650), x1=px(663),
                           y0=py(ly), y1=py(ly), line=dict(color=st['lcolor'], width=1)))
        note(656, ly, st['glyph'], 7, color=st['mcolor'], family='DejaVu Sans')

fig.update_layout(
    width=W, height=H, margin=dict(l=0, r=0, t=0, b=0),
    plot_bgcolor='white', paper_bgcolor='white', showlegend=False,
    annotations=ann, shapes=shapes, font=dict(family=FONT),
)

# the default page body has an 8px margin; remove it so the figure sits at the origin
fig.write_html('out.html', config={'displayModeBar': False},
               post_script="document.body.style.margin='0';")
